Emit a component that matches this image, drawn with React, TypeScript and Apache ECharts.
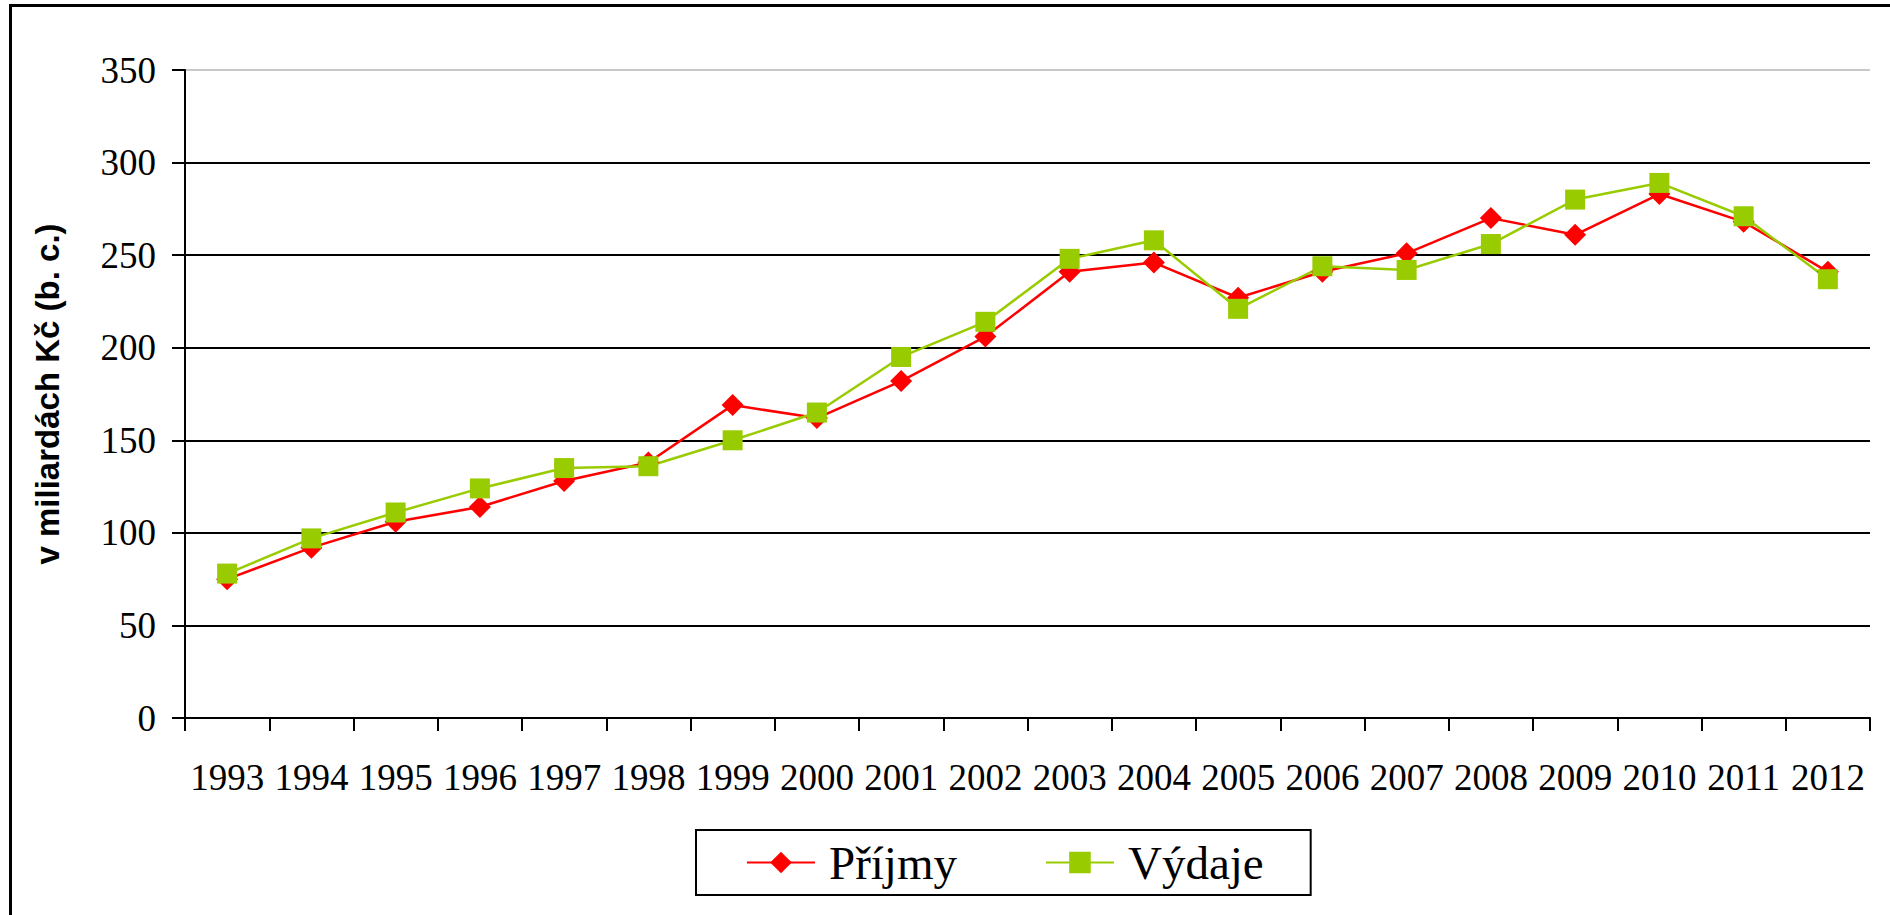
import React, { useEffect, useRef } from "react";
import * as echarts from "echarts";

const years = ["1993", "1994", "1995", "1996", "1997", "1998", "1999", "2000", "2001", "2002", "2003", "2004", "2005", "2006", "2007", "2008", "2009", "2010", "2011", "2012"];
const prijmy = [75, 92, 106, 114, 128, 138, 169, 162, 182, 206, 241, 246, 227, 241, 251, 270, 261, 283, 268, 241];
const vydaje = [78, 97, 111, 124, 135, 136, 150, 165, 195, 214, 248, 258, 221, 244, 242, 256, 280, 289, 271, 237];
const seriesNames = ["Příjmy", "Výdaje"];
const yAxisTitle = "v miliardách Kč (b. c.)";

export default function App() {
  const ref = useRef<HTMLDivElement>(null);
  useEffect(() => {
    if (!ref.current) return;
    const chart = echarts.init(ref.current, null, { renderer: "svg" });
    chart.setOption({
      animation: false,
      backgroundColor: "#ffffff",
      grid: { left: 185, top: 70, width: 1685, height: 648, containLabel: false },
      xAxis: {
        type: "category",
        data: years,
        boundaryGap: true,
        axisLine: { lineStyle: { color: "#000", width: 2 } },
        axisTick: { show: true, length: 13, inside: false, lineStyle: { color: "#000", width: 2 } },
        axisLabel: { color: "#000", fontFamily: "Liberation Serif", fontSize: 37, margin: 41, interval: 0 },
        splitLine: { show: false },
      },
      yAxis: {
        type: "value",
        min: 0,
        max: 350,
        interval: 50,
        name: yAxisTitle,
        nameLocation: "middle",
        nameGap: 121,
        nameRotate: 90,
        nameTextStyle: { color: "#000", fontFamily: "Liberation Sans", fontWeight: "bold", fontSize: 33 },
        axisLine: { show: true, lineStyle: { color: "#000", width: 2 } },
        axisTick: { show: true, length: 13, inside: false, lineStyle: { color: "#000", width: 2 } },
        axisLabel: { color: "#000", fontFamily: "Liberation Serif", fontSize: 37, margin: 29 },
        splitLine: {
          show: true,
          lineStyle: { color: ["#000", "#000", "#000", "#000", "#000", "#000", "#000", "#c8c8c8"], width: 2 },
        },
      },
      legend: {
        show: true,
        left: 696,
        top: 830,
        orient: "horizontal",
        padding: [9, 47, 9, 50],
        borderColor: "#000",
        borderWidth: 2,
        itemWidth: 68,
        itemHeight: 27,
        itemGap: 88,
        textStyle: { color: "#000", fontFamily: "Liberation Serif", fontSize: 47, lineHeight: 47, padding: [0, 0, 0, 9] },
        data: seriesNames,
      },
      series: [
        {
          name: seriesNames[0],
          type: "line",
          data: prijmy,
          symbol: "diamond",
          symbolSize: 22,
          lineStyle: { color: "#ff0000", width: 2.5 },
          itemStyle: { color: "#ff0000" },
        },
        {
          name: seriesNames[1],
          type: "line",
          data: vydaje,
          symbol: "rect",
          symbolSize: 20,
          lineStyle: { color: "#99cc00", width: 2.5 },
          itemStyle: { color: "#99cc00" },
        },
      ],
      graphic: [
        { type: "line", shape: { x1: 9, y1: 5.5, x2: 1890, y2: 5.5 }, style: { stroke: "#000", lineWidth: 3 } },
        { type: "line", shape: { x1: 10.5, y1: 4, x2: 10.5, y2: 915 }, style: { stroke: "#000", lineWidth: 3 } },
      ],
    });
    return () => chart.dispose();
  }, []);
  return <div ref={ref} style={{ position: "fixed", left: 0, top: 0, width: 1890, height: 915 }} />;
}
